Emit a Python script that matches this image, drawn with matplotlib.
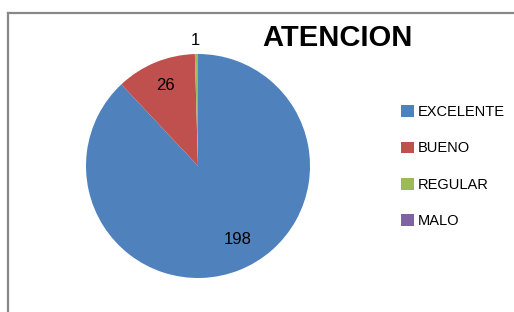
import matplotlib
matplotlib.use("Agg")
import matplotlib.pyplot as plt
from matplotlib.patches import Patch
from matplotlib.lines import Line2D
import numpy as np

categorias = ["EXCELENTE", "BUENO", "REGULAR", "MALO"]
valores = [198, 26, 1, 0]
colores = ["#4F81BD", "#C0504D", "#9BBB59", "#8064A2"]
titulo = "ATENCION"

W, H = 514, 312
fig = plt.figure(figsize=(W / 100, H / 100), dpi=100)
fig.patch.set_facecolor("white")

# marco (parcialmente recortado)
fig.add_artist(Line2D([8 / W, 8 / W], [0, 1 - 13 / H], transform=fig.transFigure,
                      color="#888888", linewidth=1.6))
fig.add_artist(Line2D([8 / W, 1], [1 - 13 / H, 1 - 13 / H], transform=fig.transFigure,
                      color="#888888", linewidth=1.6))

# ── Pastel ────────────────────────────────────────────────────────────────
cx, cy, r = 198, 166, 112
ax = fig.add_axes([(cx - r) / W, (H - cy - r) / H, 2 * r / W, 2 * r / H])
wedges, _ = ax.pie(valores, colors=colores, startangle=90, counterclock=False,
                   radius=1, wedgeprops={"linewidth": 0})
ax.set_xlim(-1, 1)
ax.set_ylim(-1, 1)
ax.axis("off")

# posiciones de las etiquetas (en radios del pastel)
posiciones = [(0.35, -0.66), (-0.29, 0.72), (-0.02, 1.12)]
for v, (x, y) in zip(valores, posiciones):
    ax.text(x, y, str(v), ha="center", va="center",
            fontsize=12, family="Liberation Sans", color="black", clip_on=False)

fig.text(337 / W, 1 - 38 / H, titulo, ha="center", va="center", fontsize=21,
         fontweight="bold", family="Liberation Sans")

handles = [Patch(facecolor=c, edgecolor="none") for c in colores]
fig.legend(handles, categorias, loc="upper left", bbox_to_anchor=(388 / W, 1 - 92 / H),
           frameon=False, handlelength=0.85, handleheight=0.85, handletextpad=0.3,
           labelspacing=1.53, prop={"family": "Liberation Sans", "size": 10.5})

fig.savefig("out.png", dpi=100, facecolor="white")
